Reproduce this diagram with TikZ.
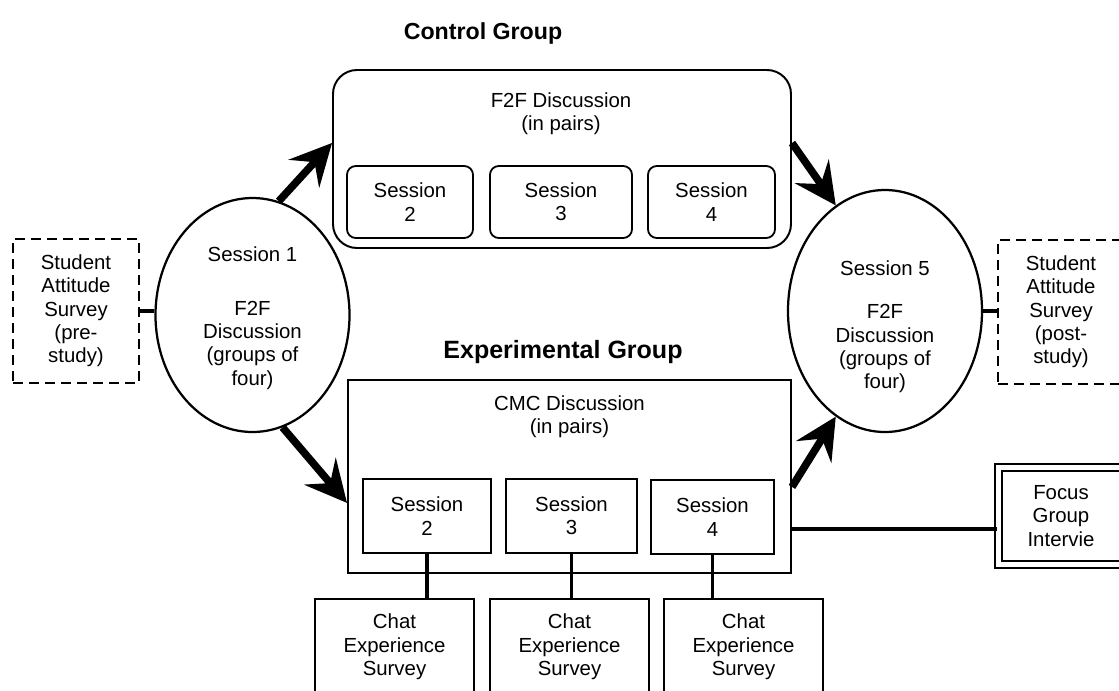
\documentclass[tikz,border=0pt]{standalone}
\usepackage{fontspec}
\setmainfont{Liberation Sans}
\usetikzlibrary{arrows.meta,shapes.geometric}

\begin{document}
\begin{tikzpicture}[x=0.25mm, y=-0.25mm,
  font=\fontsize{14.5pt}{16.6pt}\selectfont,
  grp/.style={draw, line width=1.4pt, inner sep=0pt},
  sess/.style={draw, line width=1.3pt, align=center, inner sep=0pt, minimum height=18mm},
  oval/.style={draw, ellipse, line width=1.6pt, minimum width=48.5mm, inner sep=0pt},
  survey/.style={draw, dash pattern=on 2.6mm off 1.4mm, line width=1.7pt, align=center,
                 minimum width=31.5mm, minimum height=36mm, inner sep=0pt},
  chat/.style={draw, line width=0.8pt, align=center, minimum width=39.75mm,
               minimum height=24mm, inner sep=0pt},
  ttl/.style={font=\fontsize{16.5pt}{20pt}\selectfont\bfseries},
  ar/.style={line width=1.9mm, -{Stealth[length=10.5mm, width=10.5mm, inset=4mm, line width=0pt]}},
  link/.style={line width=2.6pt}
]
\useasboundingbox (0,0) rectangle (1119,690);
\clip (0,0) rectangle (1119,690);

% control group
\node[ttl] (ctitle) at (483,33) {Control Group};
\node[grp, rounded corners=6mm, minimum width=114.5mm, minimum height=44.5mm] (ctrl) at (562,159) {};
\node[align=center] (ctrltxt) at (561,114) {F2F Discussion\\(in pairs)};
\node[sess, rounded corners=2.2mm, minimum width=31.5mm] (c2) at (410,202) {Session\\2};
\node[sess, rounded corners=2.2mm, minimum width=35.5mm] (c3) at (561,202) {Session\\3};
\node[sess, rounded corners=2.2mm, minimum width=31.75mm] (c4) at (711.5,202) {Session\\4};

% experimental group
\node[ttl, font=\fontsize{17.8pt}{21pt}\selectfont\bfseries] (etitle) at (563,352) {Experimental Group};
\node[grp, minimum width=110.75mm, minimum height=48.25mm] (exp) at (569.5,476.5) {};
\node[align=center] (exptxt) at (569.5,417) {CMC Discussion\\(in pairs)};
\node[sess, minimum width=32mm, minimum height=18.5mm] (e2) at (427,516) {Session\\2};
\node[sess, minimum width=32.75mm, minimum height=18.5mm] (e3) at (571.5,516) {Session\\3};
\node[sess, minimum width=30.75mm, minimum height=18.5mm] (e4) at (712.5,517) {Session\\4};

\node[chat] (q2) at (394.5,647) {Chat\\Experience\\Survey};
\node[chat] (q3) at (569.5,647) {Chat\\Experience\\Survey};
\node[chat] (q4) at (743.5,647) {Chat\\Experience\\Survey};

% whole-class sessions
\node[oval, minimum height=58.5mm] (s1) at (252.5,315) {};
\node[align=center] (s1txt) at (252.5,318) {Session 1\\[7.6mm]F2F\\Discussion\\(groups of\\four)};
\node[oval, minimum height=60.5mm] (s5) at (885,311) {};
\node[align=center] (s5txt) at (885,327) {Session 5\\[5mm]F2F\\Discussion\\(groups of\\four)};

\node[survey] (pre) at (76,311) {Student\\Attitude\\Survey\\(pre-\\study)};
\node[survey] (post) at (1061,312) {Student\\Attitude\\Survey\\(post-\\study)};

\node[draw, double, line width=0.6mm, double distance=1.1mm, minimum width=31.25mm,
      minimum height=24.25mm, align=center, inner sep=0pt] (fg) at (1061,516) {Focus\\Group\\Intervie};

% connectors
\draw[ar] (s1.77) -- ([yshift=4mm]ctrl.west);
\draw[ar] (s1.-75) -- ([yshift=-6.6mm]exp.west);
\draw[ar] ([yshift=4mm]ctrl.east) -- (s5.115);
\draw[ar] ([yshift=-2.6mm]exp.east) -- (s5.-115);

\draw[link] (pre.east) -- (s1.west |- pre.east);
\draw[link] (s5.east) -- (post.west |- s5.east);
\draw[link] (e2.south) -- (e2.south |- q2.north);
\draw[link] (e3.south) -- (e3.south |- q3.north);
\draw[link] (e4.south) -- (e4.south |- q4.north);
\coordinate (fgjoin) at (900,529);
\draw[link] (exp.east |- fgjoin) -- (fg.west |- fgjoin);
\end{tikzpicture}
\end{document}
